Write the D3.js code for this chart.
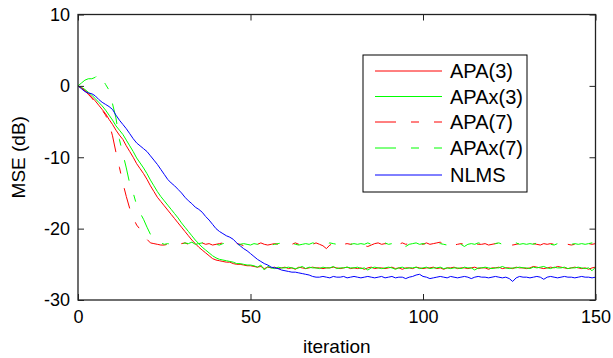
<!DOCTYPE html>
<html>
<head>
<meta charset="utf-8">
<script src="https://cdn.jsdelivr.net/npm/d3@7"></script>
<style>
  body { margin: 0; background: #fff; }
  svg text { font-family: "Liberation Sans", Arial, sans-serif; fill: #000; }
</style>
</head>
<body>
<div id="chart"></div>
<script>
// MSE (dB) per iteration, 0..150
var apa3 = [
  0,-0.3,-0.6,-1.1,-1.6,-2.1,-2.7,-3.3,-3.9,-4.7,
  -5.4,-6.2,-6.9,-7.5,-8.4,-9.2,-10.0,-10.9,-11.6,-12.3,
  -13.1,-14.0,-14.8,-15.6,-16.2,-16.8,-17.4,-18.0,-18.6,-19.2,
  -19.8,-20.4,-21.0,-21.6,-22.1,-22.6,-23.0,-23.4,-23.8,-24.2,
  -24.4,-24.5,-24.6,-24.7,-24.7,-24.9,-25.0,-25.0,-25.1,-25.2,
  -25.2,-25.3,-25.4,-25.3,-25.6,-25.4,-25.5,-25.4,-25.6,-25.5,
  -25.4,-25.6,-25.5,-25.7,-25.4,-25.5,-25.6,-25.5,-25.4,-25.5,
  -25.5,-25.6,-25.5,-25.5,-25.4,-25.5,-25.6,-25.5,-25.4,-25.6,
  -25.5,-25.6,-25.5,-25.7,-25.5,-25.4,-25.6,-25.5,-25.5,-25.6,
  -25.5,-25.4,-25.6,-25.5,-25.7,-25.5,-25.5,-25.6,-25.4,-25.5,
  -25.6,-25.5,-25.5,-25.4,-25.6,-25.5,-25.7,-25.5,-25.5,-25.4,
  -25.6,-25.5,-25.5,-25.6,-25.5,-25.4,-25.6,-25.5,-25.5,-25.7,
  -25.5,-25.5,-25.4,-25.6,-25.5,-25.5,-25.6,-25.4,-25.5,-25.5,
  -25.6,-25.5,-25.3,-25.4,-25.5,-25.6,-25.5,-25.4,-25.5,-25.3,
  -25.4,-25.5,-25.6,-25.5,-25.4,-25.5,-25.6,-25.5,-25.7,-25.5,
  -25.4
];
var apax3 = [
  0,-0.2,-0.5,-0.9,-1.3,-1.8,-2.3,-2.8,-3.4,-4.1,
  -4.8,-5.6,-6.2,-6.8,-7.6,-8.4,-9.2,-10.1,-10.8,-11.5,
  -12.3,-13.2,-14.0,-14.8,-15.5,-16.1,-16.7,-17.3,-17.9,-18.5,
  -19.2,-19.8,-20.4,-21.0,-21.6,-22.1,-22.6,-23.0,-23.4,-23.8,
  -24.1,-24.3,-24.4,-24.5,-24.6,-24.7,-24.9,-24.9,-25.0,-25.1,
  -25.1,-25.2,-25.4,-25.1,-25.8,-25.3,-25.5,-25.6,-25.4,-25.5,
  -25.5,-25.4,-25.5,-25.6,-25.5,-25.3,-25.6,-25.4,-25.5,-25.5,
  -25.6,-25.4,-25.5,-25.5,-25.3,-25.6,-25.5,-25.5,-25.4,-25.5,
  -25.5,-25.4,-25.6,-25.5,-25.8,-25.5,-25.4,-25.5,-25.6,-25.5,
  -25.4,-25.5,-25.7,-25.5,-25.4,-25.6,-25.5,-25.5,-25.4,-25.6,
  -25.5,-25.4,-25.6,-25.5,-25.5,-25.4,-25.6,-25.5,-25.6,-25.5,
  -25.5,-25.6,-25.4,-25.5,-25.5,-25.8,-25.5,-25.5,-25.4,-25.5,
  -25.6,-25.5,-25.5,-25.3,-25.5,-25.6,-25.5,-25.5,-25.4,-25.5,
  -25.5,-25.6,-25.4,-25.5,-25.4,-25.3,-25.5,-25.6,-25.4,-25.5,
  -25.5,-25.4,-25.6,-25.5,-25.5,-25.4,-25.5,-25.6,-25.5,-25.9,
  -25.4
];
var apa7 = [
  0,-0.3,-0.7,-1.2,-1.7,-2.3,-2.9,-3.4,-4.1,-5.2,
  -7.0,-9.3,-11.4,-13.6,-15.5,-17.2,-18.5,-19.5,-20.1,-20.3,
  -21.5,-22.0,-22.1,-22.2,-22.3,-22.3,-22.2,-22.1,-22.3,-22.2,
  -22.1,-22.0,-22.2,-22.3,-22.1,-22.2,-22.0,-22.2,-22.1,-22.3,
  -22.2,-22.1,-22.0,-22.2,-22.3,-22.2,-22.1,-22.2,-22.4,-22.2,
  -22.1,-22.3,-22.2,-22.0,-22.2,-22.3,-22.2,-22.1,-22.2,-22.3,
  -22.2,-22.1,-22.2,-22.0,-22.2,-22.3,-22.1,-22.2,-22.2,-22.0,
  -22.2,-22.4,-22.8,-22.3,-22.1,-22.2,-22.0,-22.2,-22.1,-22.2,
  -22.1,-22.3,-22.2,-22.4,-22.5,-22.3,-22.1,-22.0,-22.2,-22.1,
  -22.2,-22.1,-22.3,-22.2,-22.0,-22.2,-22.1,-22.2,-22.3,-22.1,
  -22.2,-22.0,-22.2,-22.1,-22.0,-21.9,-22.2,-22.1,-22.2,-22.3,
  -22.2,-22.1,-22.2,-22.0,-22.2,-22.1,-22.2,-22.2,-22.1,-22.3,
  -22.2,-22.1,-22.0,-22.2,-22.1,-22.2,-22.3,-22.2,-22.1,-22.2,
  -22.0,-22.2,-22.1,-22.2,-22.3,-22.1,-22.2,-22.1,-22.2,-22.0,
  -22.2,-22.1,-22.2,-22.3,-22.2,-22.1,-22.2,-22.0,-22.1,-22.2,
  -22.1
];
var apax7 = [
  0,0.4,0.8,1.0,1.0,1.2,1.7,1.0,0.2,-0.6,
  -2.5,-4.5,-7.5,-9.5,-11.5,-13.7,-15.0,-16.7,-17.8,-18.7,
  -19.8,-20.8,-21.3,-21.8,-22.0,-22.2,-22.1,-22.2,-22.3,-22.1,
  -22.2,-22.0,-22.1,-21.9,-22.2,-22.1,-22.0,-21.9,-22.2,-22.1,
  -22.2,-22.3,-22.1,-22.0,-22.2,-22.1,-22.3,-22.2,-22.1,-22.2,
  -22.3,-22.1,-22.2,-22.0,-22.1,-22.2,-22.3,-22.2,-22.1,-22.0,
  -22.2,-22.1,-22.0,-22.2,-22.3,-22.2,-22.1,-22.2,-22.0,-22.1,
  -22.2,-22.1,-22.2,-22.0,-22.1,-22.2,-22.2,-22.1,-22.0,-22.2,
  -22.1,-22.2,-22.1,-22.2,-22.0,-22.2,-22.1,-22.2,-22.1,-22.0,
  -22.2,-22.1,-22.2,-22.3,-22.1,-22.5,-22.2,-22.1,-22.0,-22.2,
  -22.1,-22.2,-22.0,-22.1,-22.2,-22.1,-22.2,-22.3,-22.1,-22.2,
  -22.0,-22.2,-22.5,-22.2,-22.1,-22.2,-22.0,-22.1,-22.2,-22.1,
  -22.2,-22.1,-22.0,-22.2,-22.1,-22.2,-22.1,-22.0,-22.2,-22.1,
  -22.2,-22.1,-22.2,-22.0,-22.1,-22.2,-22.1,-22.2,-22.3,-22.1,
  -22.2,-22.1,-22.0,-22.2,-22.1,-22.2,-22.1,-22.2,-22.1,-22.0,
  -22.1
];
var nlms = [
  0,-0.4,-0.8,-1.0,-1.1,-1.4,-1.9,-2.3,-2.6,-2.9,
  -3.3,-4.1,-4.8,-5.4,-6.0,-6.7,-7.4,-8.0,-8.4,-8.8,
  -9.2,-9.8,-10.4,-11.0,-11.7,-12.4,-13.1,-13.6,-14.0,-14.5,
  -15.0,-15.6,-16.1,-16.5,-17.0,-17.3,-17.7,-18.3,-18.8,-19.4,
  -20.0,-20.4,-20.7,-21.0,-21.2,-21.5,-22.0,-22.4,-22.8,-23.1,
  -23.5,-23.9,-24.3,-24.6,-24.9,-25.1,-25.4,-25.5,-25.6,-25.8,
  -25.9,-26.0,-26.1,-26.1,-26.2,-26.3,-26.4,-26.5,-26.7,-26.8,
  -26.8,-26.7,-26.8,-26.9,-26.7,-26.8,-26.8,-26.7,-26.9,-26.8,
  -26.7,-26.8,-26.9,-26.8,-26.7,-26.8,-26.9,-26.8,-26.7,-26.9,
  -26.8,-26.7,-26.9,-26.8,-26.8,-27.0,-26.8,-26.7,-26.5,-26.4,
  -26.7,-26.8,-27.0,-26.9,-26.8,-26.7,-26.8,-26.9,-26.7,-26.8,
  -26.9,-26.8,-26.7,-26.8,-27.0,-26.8,-26.7,-26.8,-26.8,-26.9,
  -26.8,-26.7,-26.8,-26.9,-26.8,-27.0,-27.4,-26.9,-26.7,-26.8,
  -26.8,-26.9,-26.8,-26.7,-26.8,-27.1,-26.8,-26.7,-26.8,-26.9,
  -26.8,-26.7,-26.8,-26.8,-26.9,-26.8,-26.7,-26.8,-26.8,-26.9,
  -26.8
];

var seriesNames = ["APA(3)", "APAx(3)", "APA(7)", "APAx(7)", "NLMS"];
var xTicks = [0, 50, 100, 150];
var yTicks = [10, 0, -10, -20, -30];

var series = [
  {name: seriesNames[0], values: apa3,  color: "#ff0000", dash: null},
  {name: seriesNames[1], values: apax3, color: "#00ff00", dash: null},
  {name: seriesNames[2], values: apa7,  color: "#ff0000", dash: "21,15,7,15"},
  {name: seriesNames[3], values: apax7, color: "#00ff00", dash: "21,15,7,15"},
  {name: seriesNames[4], values: nlms,  color: "#0000ff", dash: null}
];

var svg = d3.select("#chart").append("svg")
    .attr("width", 613)
    .attr("height", 358);

var x = d3.scaleLinear().domain([0, 150]).range([78, 595.5]),
    y = d3.scaleLinear().domain([-30, 10]).range([300, 14.5]);

var line = d3.line()
    .x(function(d, i) { return x(i); })
    .y(function(d) { return y(d); });

// lines
svg.append("g").selectAll("path")
  .data(series)
  .enter().append("path")
    .attr("d", function(d) { return line(d.values); })
    .attr("fill", "none")
    .attr("stroke", function(d) { return d.color; })
    .attr("stroke-width", 1)
    .attr("stroke-dasharray", function(d) { return d.dash; });

// plain hyphen minus like matlab, not the unicode one
var fmt = function(d) { return String(d); };

// axes (ticks point inside, like matlab)
function styleAxis(g) {
  g.select(".domain").remove();
  g.selectAll(".tick line").attr("stroke", "#222");
  g.selectAll(".tick text").style("font-size", "18px").attr("fill", "#000");
}
svg.append("g")
    .attr("transform", "translate(0,300)")
    .call(d3.axisBottom(x).tickValues(xTicks).tickSize(-6).tickPadding(10).tickFormat(fmt))
    .call(styleAxis);
svg.append("g")
    .attr("transform", "translate(0,14.5)")
    .call(d3.axisTop(x).tickValues(xTicks).tickSize(-6).tickFormat(""))
    .call(styleAxis);
svg.append("g")
    .attr("transform", "translate(78,0)")
    .call(d3.axisLeft(y).tickValues(yTicks).tickSize(-6).tickPadding(8).tickFormat(fmt))
    .call(styleAxis);
svg.append("g")
    .attr("transform", "translate(595.5,0)")
    .call(d3.axisRight(y).tickValues(yTicks).tickSize(-6).tickFormat(""))
    .call(styleAxis);

svg.append("rect")
    .attr("x", 78).attr("y", 14.5)
    .attr("width", 595.5 - 78).attr("height", 300 - 14.5)
    .attr("fill", "none")
    .attr("stroke", "#222")
    .attr("stroke-width", 1.3);

// axis labels
svg.append("text")
    .attr("x", (78 + 595.5) / 2)
    .attr("y", 353)
    .attr("text-anchor", "middle")
    .style("font-size", "19px")
    .text("iteration");
svg.append("text")
    .attr("transform", "translate(25," + ((14.5 + 300) / 2) + ") rotate(-90)")
    .attr("text-anchor", "middle")
    .style("font-size", "19px")
    .text("MSE (dB)");

// legend
var legend = svg.append("g");
legend.append("rect")
    .attr("x", 363).attr("y", 55)
    .attr("width", 164).attr("height", 137)
    .attr("fill", "#fff")
    .attr("stroke", "#000")
    .attr("stroke-width", 1);

var rowY = [71, 96.5, 122, 148, 175];
var item = legend.selectAll(".item")
  .data(series)
  .enter().append("g")
    .attr("class", "item")
    .attr("transform", function(d, i) { return "translate(0," + rowY[i] + ")"; });
item.append("line")
    .attr("x1", 375).attr("x2", 442)
    .attr("stroke", function(d) { return d.color; })
    .attr("stroke-width", 1)
    .attr("stroke-dasharray", function(d) { return d.dash ? "21,15,8,15,8" : null; });
item.append("text")
    .attr("x", 450)
    .attr("dy", "0.36em")
    .style("font-size", "20px")
    .text(function(d) { return d.name; });
</script>
</body>
</html>
